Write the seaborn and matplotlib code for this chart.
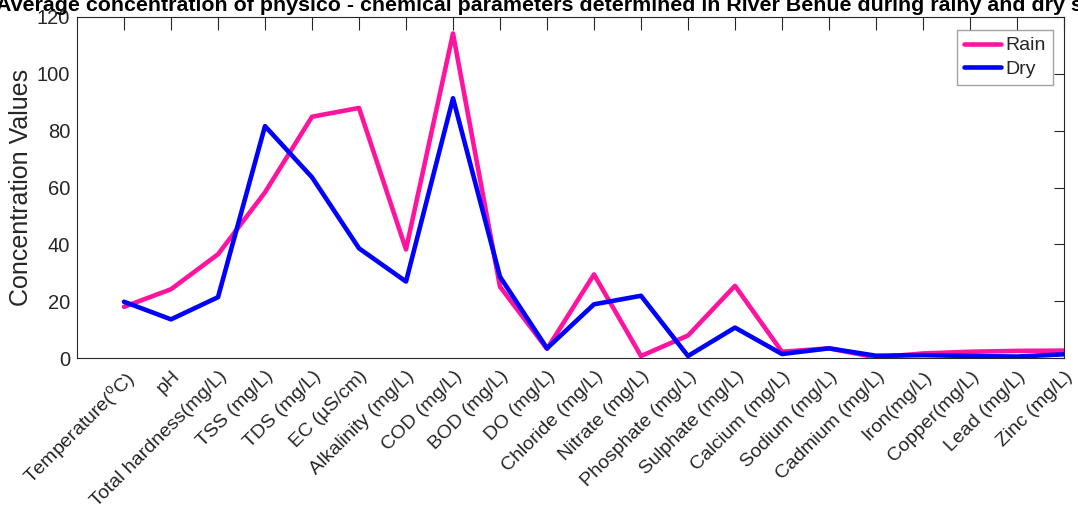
import numpy as np
import pandas as pd
import matplotlib
matplotlib.use("Agg")
import matplotlib.pyplot as plt
import seaborn as sns

parameters = [
    r"Temperature($^{\mathrm{o}}$C)", "pH", "Total hardness(mg/L)", "TSS (mg/L)",
    "TDS (mg/L)", "EC (µS/cm)", "Alkalinity (mg/L)", "COD (mg/L)", "BOD (mg/L)",
    "DO (mg/L)", "Chloride (mg/L)", "Nitrate (mg/L)", "Phosphate (mg/L)",
    "Sulphate (mg/L)", "Calcium (mg/L)", "Sodium (mg/L)", "Cadmium (mg/L)",
    "Iron(mg/L)", "Copper(mg/L)", "Lead (mg/L)", "Zinc (mg/L)",
]
rain = [18.0, 24.2, 36.5, 58.3, 84.9, 88.0, 38.2, 114.2, 25.1, 3.2, 29.4,
        0.7, 7.9, 25.4, 2.2, 3.4, 0.2, 1.6, 2.2, 2.5, 2.6]
dry = [19.8, 13.6, 21.4, 81.6, 63.6, 38.6, 26.9, 91.4, 28.6, 3.4, 18.9,
       21.9, 0.7, 10.7, 1.4, 3.4, 0.8, 1.0, 0.7, 0.5, 1.3]
seasons = ["Rain", "Dry"]
colors = {"Rain": "#FF14A0", "Dry": "#0000FF"}
title = ("Average concentration of physico - chemical parameters determined "
         "in River Benue during rainy and dry season")

sns.set_style("white")
plt.rcParams["font.family"] = ["Liberation Sans", "DejaVu Sans"]
plt.rcParams["mathtext.fontset"] = "custom"
plt.rcParams["mathtext.rm"] = "Liberation Sans"
plt.rcParams["mathtext.it"] = "Liberation Sans:italic"
plt.rcParams["mathtext.bf"] = "Liberation Sans:bold"

pos = np.arange(len(parameters))
df = pd.DataFrame({
    "pos": np.concatenate([pos, pos]),
    "value": rain + dry,
    "season": np.repeat(seasons, len(parameters)),
})

fig = plt.figure(figsize=(10.78, 5.26), dpi=100)
ax = fig.add_axes([77 / 1078, 1 - 358 / 526, 987 / 1078, 341 / 526])

sns.lineplot(data=df, x="pos", y="value", hue="season", hue_order=seasons,
             palette=colors, linewidth=3.3, ax=ax, sort=False)

ink = "#262626"
ax.set_xlim(-1, len(parameters) - 1)
ax.set_ylim(0, 120)
ax.set_yticks(np.arange(0, 121, 20))
ax.set_xticks(pos)
ax.set_xticklabels(parameters, rotation=45, ha="right", rotation_mode="anchor",
                   fontsize=14, color=ink)
ax.tick_params(axis="y", labelsize=14.5, labelcolor=ink)
ax.tick_params(axis="x", direction="in", length=9, width=0.8, color=ink,
               top=True, pad=7)
ax.tick_params(axis="y", direction="in", length=7, width=0.8, color=ink,
               right=True, pad=5)
for sp in ax.spines.values():
    sp.set_visible(True)
    sp.set_color(ink)
    sp.set_linewidth(0.8)

ax.set_xlabel("")
ax.set_ylabel("Concentration Values", fontsize=18, color=ink, labelpad=3)
ax.set_title(title, fontsize=15.4, fontweight="bold", color="black", pad=4.5)

leg = ax.legend(loc="upper right", bbox_to_anchor=(1 - 11 / 987, 1 - 13 / 341),
                borderaxespad=0, fontsize=14, frameon=True, fancybox=False,
                handlelength=1.9, handletextpad=0.25, borderpad=0.35,
                labelspacing=0.3, title=None)
leg.get_frame().set_edgecolor("#8c8c8c")
leg.get_frame().set_linewidth(1.0)
for h in leg.get_lines():
    h.set_linewidth(3.3)

fig.savefig("out.png", dpi=100)
